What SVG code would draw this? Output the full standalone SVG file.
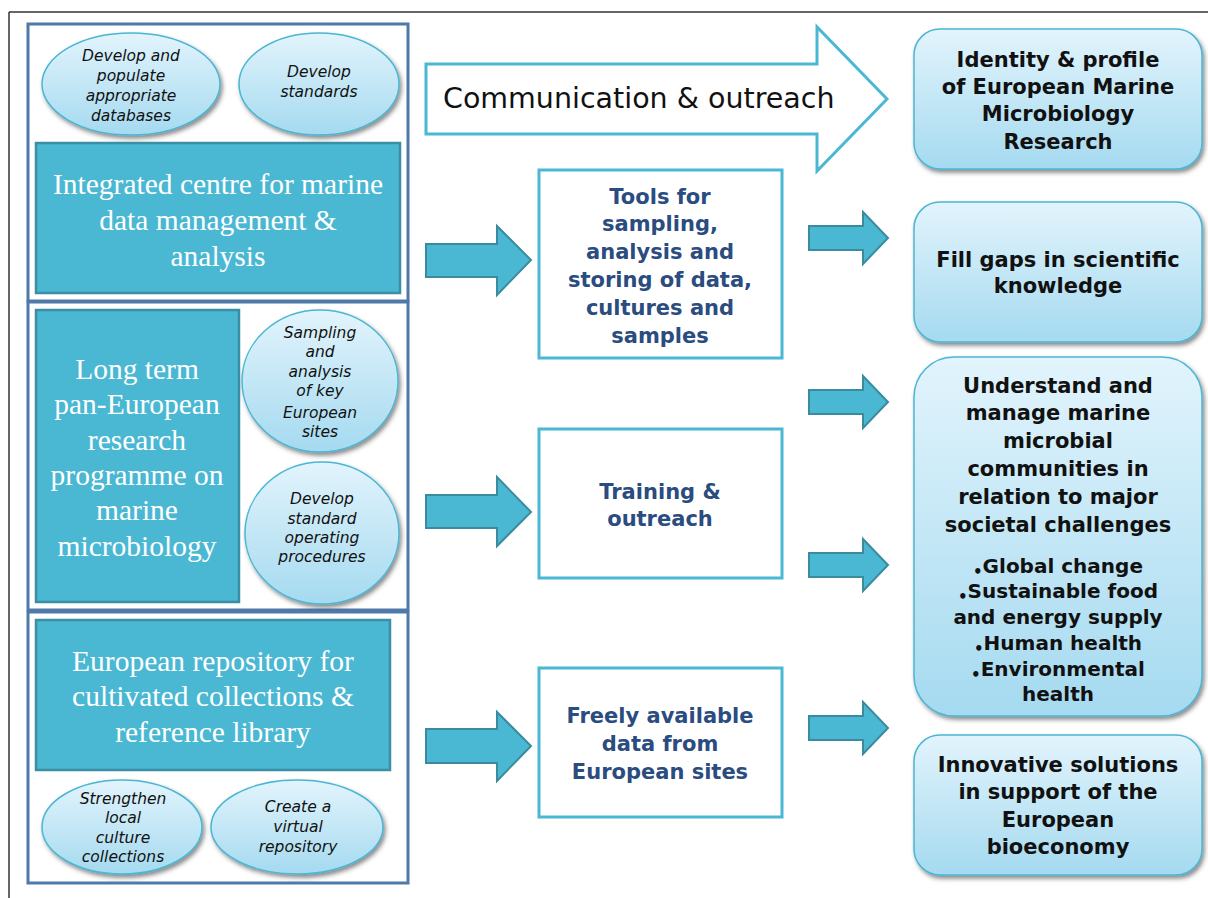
<svg xmlns="http://www.w3.org/2000/svg" width="1208" height="898" viewBox="0 0 1208 898">
<defs>
<linearGradient id="gBlue" x1="0" y1="0" x2="0" y2="1">
<stop offset="0" stop-color="#e2f4fc"/>
<stop offset="1" stop-color="#a5daf0"/>
</linearGradient>
<filter id="sh" x="-10%" y="-10%" width="125%" height="130%">
<feDropShadow dx="2" dy="3" stdDeviation="2" flood-color="#333" flood-opacity="0.55"/>
</filter>
<style>
.frame{stroke:#333;stroke-width:1.5;fill:none}
.outer{fill:none;stroke:#4f79a8;stroke-width:3}
.teal{fill:#4ab8d2;stroke:#3b8fa4;stroke-width:2.5}
.tealtxt{font-family:"Liberation Serif","Times New Roman",serif;font-size:29.5px;fill:#fff;text-anchor:middle}
.ell{fill:url(#gBlue);stroke:#4bb6d3;stroke-width:1.5;filter:url(#sh)}
.elltxt{font-family:"DejaVu Sans",Verdana,sans-serif;font-style:italic;font-size:15.5px;fill:#111;text-anchor:middle}
.mid{fill:#fff;stroke:#4ab8d2;stroke-width:3}
.midtxt{font-family:"DejaVu Sans",Verdana,sans-serif;font-weight:bold;font-size:21px;fill:#2a4c7f;text-anchor:middle}
.res{fill:url(#gBlue);stroke:#4bb6d3;stroke-width:1.5;filter:url(#sh)}
.restxt{font-family:"DejaVu Sans",Verdana,sans-serif;font-weight:bold;font-size:21px;fill:#111;text-anchor:middle}
.bul{font-size:20px}
.dot{font-size:15px}
.arr{fill:#4ab8d2;stroke:#3b8b9e;stroke-width:2}
.comm{fill:#fff;stroke:#4ab8d2;stroke-width:3}
.commtxt{font-family:"DejaVu Sans",Verdana,sans-serif;font-size:28.5px;fill:#111}
</style>
</defs>
<rect width="1208" height="898" fill="#fff"/>
<g id="frame">
<line class="frame" x1="9" y1="12" x2="1208" y2="12"/>
<line class="frame" x1="9" y1="12" x2="9" y2="898"/>
</g>

<g id="panel-data">
<rect class="outer" x="28" y="24" width="380" height="277"/>
<ellipse class="ell" cx="131" cy="84" rx="89" ry="51"/>
<text class="elltxt"><tspan x="131" y="61">Develop and</tspan><tspan x="131" y="81">populate</tspan><tspan x="131" y="101">appropriate</tspan><tspan x="131" y="121">databases</tspan></text>
<ellipse class="ell" cx="319" cy="84" rx="80" ry="51"/>
<text class="elltxt"><tspan x="319" y="77">Develop</tspan><tspan x="319" y="97">standards</tspan></text>
<rect class="teal" x="36" y="143" width="364" height="150"/>
<text class="tealtxt"><tspan x="218" y="194">Integrated centre for marine</tspan><tspan x="218" y="230">data management &amp;</tspan><tspan x="218" y="266">analysis</tspan></text>
</g>

<g id="panel-research">
<rect class="outer" x="28" y="302" width="380" height="308"/>
<rect class="teal" x="36" y="310" width="203" height="292"/>
<text class="tealtxt"><tspan x="137" y="379">Long term</tspan><tspan x="137" y="414">pan-European</tspan><tspan x="137" y="450">research</tspan><tspan x="137" y="485">programme on</tspan><tspan x="137" y="520">marine</tspan><tspan x="137" y="556">microbiology</tspan></text>
<ellipse class="ell" cx="320" cy="381" rx="78" ry="71"/>
<text class="elltxt"><tspan x="320" y="338">Sampling</tspan><tspan x="320" y="357">and</tspan><tspan x="320" y="377">analysis</tspan><tspan x="320" y="396">of key</tspan><tspan x="320" y="418">European</tspan><tspan x="320" y="437">sites</tspan></text>
<ellipse class="ell" cx="322" cy="533" rx="77" ry="71"/>
<text class="elltxt"><tspan x="322" y="504">Develop</tspan><tspan x="322" y="524">standard</tspan><tspan x="322" y="543">operating</tspan><tspan x="322" y="562">procedures</tspan></text>
</g>

<g id="panel-repository">
<rect class="outer" x="28" y="612" width="380" height="271"/>
<rect class="teal" x="36" y="620" width="354" height="150"/>
<text class="tealtxt"><tspan x="213" y="671">European repository for</tspan><tspan x="213" y="706">cultivated collections &amp;</tspan><tspan x="213" y="742">reference library</tspan></text>
<ellipse class="ell" cx="122" cy="827" rx="80" ry="47"/>
<text class="elltxt"><tspan x="123" y="804">Strengthen</tspan><tspan x="123" y="823">local</tspan><tspan x="123" y="843">culture</tspan><tspan x="123" y="862">collections</tspan></text>
<ellipse class="ell" cx="297" cy="827" rx="86" ry="47"/>
<text class="elltxt"><tspan x="298" y="812">Create a</tspan><tspan x="298" y="832">virtual</tspan><tspan x="298" y="852">repository</tspan></text>
</g>

<g id="communication">
<polygon class="comm" points="426,64 817,64 817,27 887,99 817,171 817,134 426,134"/>
<text class="commtxt" x="443" y="108">Communication &amp; outreach</text>
</g>

<g id="tools">
<rect class="mid" x="539" y="170" width="243" height="188"/>
<text class="midtxt"><tspan x="660" y="204">Tools for</tspan><tspan x="660" y="231">sampling,</tspan><tspan x="660" y="259">analysis and</tspan><tspan x="660" y="287">storing of data,</tspan><tspan x="660" y="315">cultures and</tspan><tspan x="660" y="343">samples</tspan></text>
</g>

<g id="training">
<rect class="mid" x="539" y="429" width="243" height="149"/>
<text class="midtxt"><tspan x="660" y="499">Training &amp;</tspan><tspan x="660" y="526">outreach</tspan></text>
</g>

<g id="freely">
<rect class="mid" x="539" y="668" width="243" height="149"/>
<text class="midtxt"><tspan x="660" y="723">Freely available</tspan><tspan x="660" y="751">data from</tspan><tspan x="660" y="779">European sites</tspan></text>
</g>

<g id="identity">
<rect class="res" x="914" y="29" width="288" height="140" rx="26"/>
<text class="restxt"><tspan x="1058" y="67">Identity &amp; profile</tspan><tspan x="1058" y="94">of European Marine</tspan><tspan x="1058" y="121">Microbiology</tspan><tspan x="1058" y="149">Research</tspan></text>
</g>

<g id="gaps">
<rect class="res" x="914" y="202" width="288" height="140" rx="26"/>
<text class="restxt"><tspan x="1058" y="267">Fill gaps in scientific</tspan><tspan x="1058" y="293">knowledge</tspan></text>
</g>

<g id="understand">
<rect class="res" x="914" y="357" width="288" height="359" rx="40"/>
<text class="restxt"><tspan x="1058" y="393">Understand and</tspan><tspan x="1058" y="420">manage marine</tspan><tspan x="1058" y="448">microbial</tspan><tspan x="1058" y="476">communities in</tspan><tspan x="1058" y="504">relation to major</tspan><tspan x="1058" y="532">societal challenges</tspan></text>
<text class="restxt bul" x="1058" y="573"><tspan class="dot" dy="4">•</tspan><tspan dy="-4">Global change</tspan></text>
<text class="restxt bul" x="1058" y="598"><tspan class="dot" dy="4">•</tspan><tspan dy="-4">Sustainable food</tspan></text>
<text class="restxt bul" x="1058" y="624">and energy supply</text>
<text class="restxt bul" x="1058" y="650"><tspan class="dot" dy="4">•</tspan><tspan dy="-4">Human health</tspan></text>
<text class="restxt bul" x="1058" y="676"><tspan class="dot" dy="4">•</tspan><tspan dy="-4">Environmental</tspan></text>
<text class="restxt bul" x="1058" y="701">health</text>
</g>

<g id="innovative">
<rect class="res" x="914" y="735" width="288" height="140" rx="26"/>
<text class="restxt"><tspan x="1058" y="772">Innovative solutions</tspan><tspan x="1058" y="799">in support of the</tspan><tspan x="1058" y="827">European</tspan><tspan x="1058" y="854">bioeconomy</tspan></text>
</g>

<g id="connectors">
<polygon class="arr" points="426,244 497,244 497,226 531,260 497,295 497,277 426,277"/>
<polygon class="arr" points="426,495 497,495 497,477 531,512 497,546 497,528 426,528"/>
<polygon class="arr" points="426,729 497,729 497,712 531,746 497,781 497,763 426,763"/>
<polygon class="arr" points="809,226 863,226 863,212 888,238 863,264 863,250 809,250"/>
<polygon class="arr" points="809,390 863,390 863,376 888,402 863,428 863,414 809,414"/>
<polygon class="arr" points="809,553 863,553 863,539 888,565 863,591 863,577 809,577"/>
<polygon class="arr" points="809,716 863,716 863,702 888,728 863,754 863,740 809,740"/>
</g>
</svg>
